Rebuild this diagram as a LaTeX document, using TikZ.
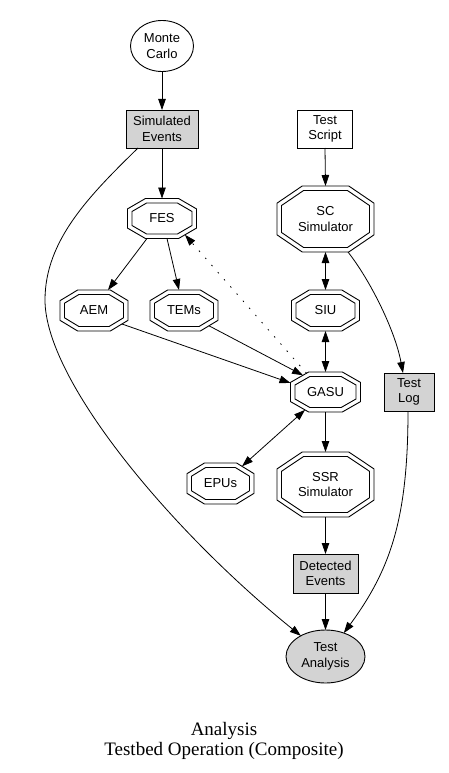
\documentclass[tikz,border=0pt]{standalone}
\usepackage{fontspec}
\setmainfont{Liberation Sans}
\newfontfamily\capfont{Liberation Serif}
\usetikzlibrary{shapes.geometric,arrows.meta}
\definecolor{lgray}{RGB}{211,211,211}
\tikzset{
  lbl/.style={font=\fontsize{13}{15.5}\selectfont, align=center, inner sep=0pt, outer sep=0pt},
  boxnode/.style={lbl, rectangle, draw, line width=0.9pt},
  ellnode/.style={lbl, ellipse, draw, line width=0.9pt},
  grayfill/.style={fill=lgray},
  octtext/.style={lbl, rectangle},
  octline/.style={line width=0.9pt, line join=miter},
  conn/.style={line width=0.8pt, -{Triangle[length=11pt,width=7.5pt]}},
  biconn/.style={line width=0.8pt, {Triangle[length=11pt,width=7.5pt]}-{Triangle[length=11pt,width=7.5pt]}},
  dotconn/.style={conn, dash pattern=on 1.5pt off 8pt},
}
\newcommand{\octr}{0.48}
\newcommand{\octd}{4.5}
\newcommand{\octnode}[6]{%
  \node[octtext, minimum width=#4pt, minimum height=#5pt] (#1) at (#2,#3) {#6};
  \pgfmathsetmacro{\oa}{#4/2}%
  \pgfmathsetmacro{\ob}{#5/2}%
  \pgfmathsetmacro{\octN}{sqrt(1/(\oa*\oa)+1/(\ob*\ob))}%
  \pgfmathsetmacro{\octK}{1+\octr-\octd*\octN}%
  \pgfmathsetmacro{\oia}{\oa-\octd}%
  \pgfmathsetmacro{\oib}{\ob-\octd}%
  \pgfmathsetmacro{\oiy}{\ob*(\octK-\oia/\oa)}%
  \pgfmathsetmacro{\oix}{\oa*(\octK-\oib/\ob)}%
  \draw[octline, shift={(#2,#3)}] (\oa,\octr*\ob) -- (\octr*\oa,\ob) -- (-\octr*\oa,\ob) -- (-\oa,\octr*\ob) -- (-\oa,-\octr*\ob) -- (-\octr*\oa,-\ob) -- (\octr*\oa,-\ob) -- (\oa,-\octr*\ob) -- cycle;
  \draw[octline, shift={(#2,#3)}] (\oia,\oiy) -- (\oix,\oib) -- (-\oix,\oib) -- (-\oia,\oiy) -- (-\oia,-\oiy) -- (-\oix,-\oib) -- (\oix,-\oib) -- (\oia,-\oiy) -- cycle;
}
\begin{document}
\begin{tikzpicture}[x=1pt,y=-1pt]
\fill[white] (0,0) rectangle (448,773);
\useasboundingbox (0,0) rectangle (448,773);

\node[ellnode, minimum width=63pt, minimum height=51pt] (mc) at (162,46) {Monte\\Carlo};
\node[boxnode, grayfill, minimum width=72pt, minimum height=38pt] (se) at (162,129) {Simulated\\Events};
\node[boxnode, minimum width=55pt, minimum height=38pt] (ts) at (325,129) {Test\\Script};
\octnode{fes}{162}{218.5}{69}{40}{FES}
\octnode{sc}{325.5}{219}{97}{66}{SC\\Simulator}
\octnode{aem}{94}{310.5}{68}{41}{AEM}
\octnode{tems}{184}{310.5}{68}{41}{TEMs}
\octnode{siu}{325.5}{310.5}{68}{41}{SIU}
\octnode{gasu}{325.5}{392}{70}{40}{GASU}
\node[boxnode, grayfill, minimum width=50pt, minimum height=38pt] (tl) at (409,392) {Test\\Log};
\octnode{epus}{220.5}{483.5}{67}{41}{EPUs}
\octnode{ssr}{325.5}{484.5}{97}{65}{SSR\\Simulator}
\node[boxnode, grayfill, minimum width=65pt, minimum height=39pt] (de) at (325.5,573.5) {Detected\\Events};
\node[ellnode, grayfill, minimum width=79pt, minimum height=53pt] (ta) at (325.5,656.5) {Test\\Analysis};

\node[font=\capfont\fontsize{19}{19.5}\selectfont, align=center, inner sep=0pt] (cap) at (224,741) {Analysis\\Testbed Operation (Composite)};

\draw[conn] (mc.south) -- (se.north);
\draw[conn] (se.south) -- (fes.north);
\coordinate (sebend) at (45,300);
\draw[conn] ([shift={(-24,0)}]se.south) .. controls (90,195) and (45,240) .. (sebend) .. controls (45,380) and (170,530) .. (ta.140);
\draw[conn] (ts.south) -- (sc.north);
\draw[conn] ([shift={(-15,20)}]fes.center) -- ([shift={(14,-20.5)}]aem.center);
\draw[conn] ([shift={(5,20)}]fes.center) -- ([shift={(-5,-20.5)}]tems.center);
\draw[dotconn] ([shift={(-19,-18.8)}]gasu.center) -- ([shift={(23,16.3)}]fes.center);
\draw[conn] ([shift={(28,13.5)}]aem.center) -- ([shift={(-35,-9)}]gasu.center);
\draw[conn] ([shift={(25,15.3)}]tems.center) -- ([shift={(-22.5,-16.7)}]gasu.center);
\draw[biconn] (sc.south) -- (siu.north);
\draw[biconn] (siu.south) -- (gasu.north);
\draw[conn] ([shift={(22.5,33)}]sc.center) .. controls (370,280) and (395,330) .. ([shift={(-6,0)}]tl.north);
\draw[biconn] ([shift={(-20.5,17.9)}]gasu.center) -- ([shift={(21.5,-17.2)}]epus.center);
\draw[conn] (gasu.south) -- (ssr.north);
\draw[conn] (ssr.south) -- (de.north);
\draw[conn] (de.south) -- (ta.north);
\draw[conn] ([shift={(-1,0)}]tl.south) .. controls (408,520) and (390,570) .. (ta.52);
\end{tikzpicture}
\end{document}
